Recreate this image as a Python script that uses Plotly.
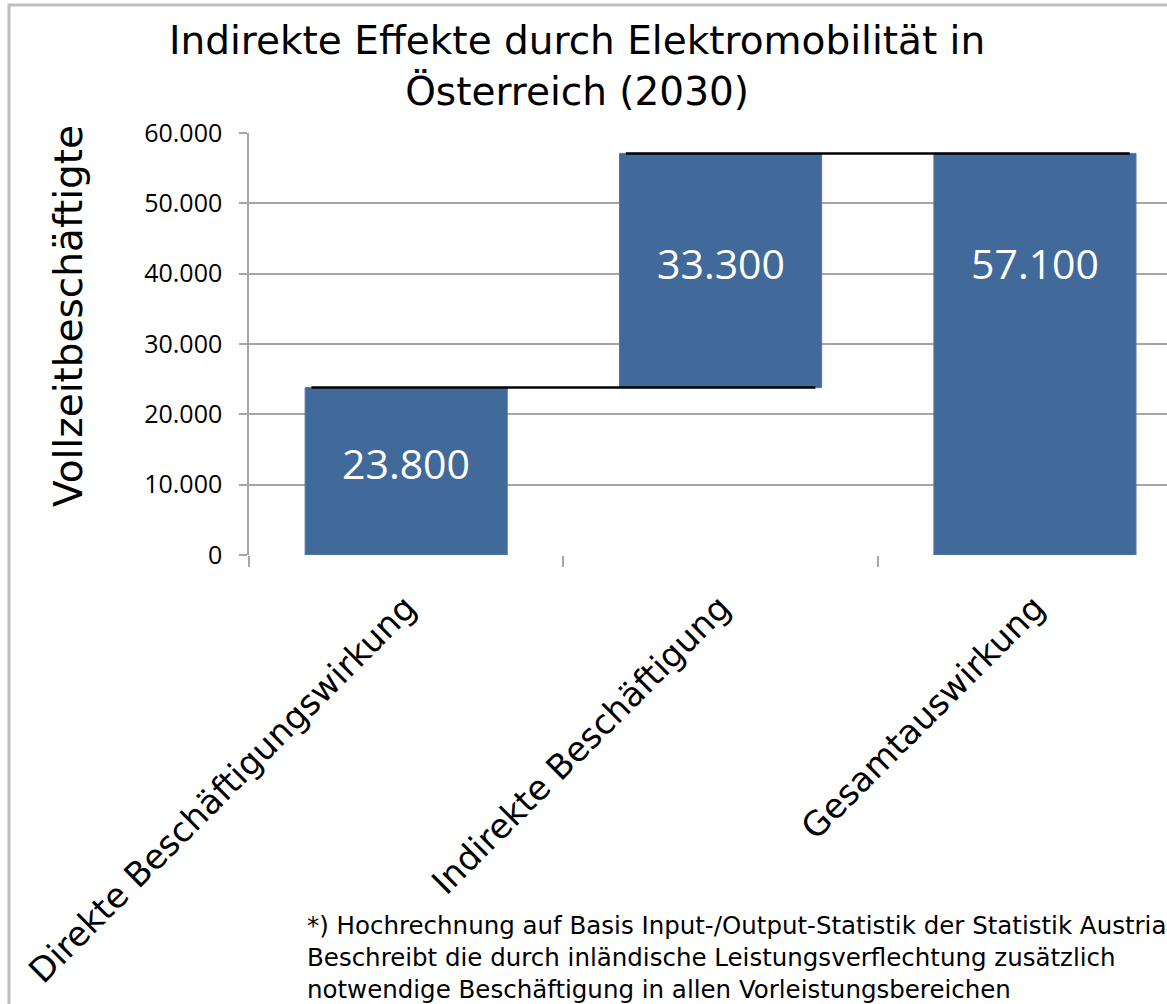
import plotly.graph_objects as go

categories = ["Direkte Beschäftigungswirkung", "Indirekte Beschäftigung", "Gesamtauswirkung"]
values = [23800, 33300, 57100]
measures = ["relative", "relative", "total"]
y_ticks = [0, 10000, 20000, 30000, 40000, 50000, 60000]
title_text = "Indirekte Effekte durch Elektromobilität in<br>Österreich (2030)"
y_title = "Vollzeitbeschäftigte"
footnote = ("*) Hochrechnung auf Basis Input-/Output-Statistik der Statistik Austria<br>"
            "Beschreibt die durch inländische Leistungsverflechtung zusätzlich<br>"
            "notwendige Beschäftigung in allen Vorleistungsbereichen")

W, H = 1167, 1004
L, R, T, B = 249, 0, 133, 449
PW, PH = W - L - R, H - T - B

def px_x(p):
    return (p - L) / PW

def px_y(p):
    return (H - B - p) / PH

# compute bases / tops of waterfall
bases, tops = [], []
run = 0
for v, m in zip(values, measures):
    if m == "total":
        bases.append(0)
        tops.append(v)
        run = v
    else:
        bases.append(run)
        run += v
        tops.append(run)
heights = [t - b for b, t in zip(bases, tops)]

FONT = "Open Sans"
WIDE = "DejaVu Sans"
bar_w = 0.643
bar_color = "#416A9B"

fig = go.Figure()
fig.add_trace(go.Bar(
    x=categories, y=heights, base=bases, width=bar_w,
    marker=dict(color=bar_color, line=dict(color="#5578A5", width=1)),
    hoverinfo="skip", showlegend=False,
))

# connectors
shapes = []
for i in range(len(values) - 1):
    shapes.append(dict(type="line", xref="x", yref="y",
                       x0=i - bar_w / 2 + 0.02, x1=i + 1 + bar_w / 2 - 0.02,
                       y0=tops[i], y1=tops[i], line=dict(color="black", width=2.5)))

# outer border
shapes.append(dict(type="rect", xref="paper", yref="paper",
                   x0=px_x(9), x1=px_x(1300), y0=px_y(1200), y1=px_y(5),
                   line=dict(color="#BEBEBE", width=3), fillcolor="rgba(0,0,0,0)", layer="below"))

annotations = []
# data labels
for i, (b, h, m) in enumerate(zip(bases, heights, measures)):
    if m == "total":
        ly = tops[i - 1] - heights[i - 1] / 2
    else:
        ly = b + h / 2
    label = f"{values[i]:,}".replace(",", ".")
    annotations.append(dict(x=categories[i], y=ly, xref="x", yref="y", text=label,
                            showarrow=False, font=dict(family=FONT, size=41, color="white"),
                            yshift=8))

annotations.append(dict(x=px_x(577), y=px_y(66), xref="paper", yref="paper", text=title_text,
                        showarrow=False, font=dict(family=WIDE, size=39, color="black"),
                        xanchor="center", yanchor="middle"))
annotations.append(dict(x=px_x(68), y=px_y(316), xref="paper", yref="paper", text=y_title,
                        showarrow=False, textangle=-90, font=dict(family=WIDE, size=39, color="black"),
                        xanchor="center", yanchor="middle"))
annotations.append(dict(x=px_x(305), y=px_y(909), xref="paper", yref="paper", text=footnote,
                        showarrow=False, align="left", font=dict(family=WIDE, size=24.5, color="black"),
                        xanchor="left", yanchor="top"))

fig.update_layout(
    width=W, height=H,
    margin=dict(l=L, r=R, t=T, b=B, autoexpand=False),
    paper_bgcolor="white", plot_bgcolor="white",
    separators=",.",
    bargap=0.357,
    shapes=shapes, annotations=annotations,
    font=dict(family=FONT, color="black"),
)
fig.update_xaxes(
    type="category", range=[-0.5, 2.42],
    tickson="boundaries", ticks="outside", ticklen=11, tickcolor="#A6A6A6", tickwidth=1.5,
    tickangle=-45, tickfont=dict(family=WIDE, size=34, color="black"),
    ticklabelstandoff=25,
    showline=False, showgrid=False,
)
fig.update_yaxes(
    range=[0, 60000], tickvals=y_ticks, tickformat=",d",
    ticks="outside", ticklen=8, tickcolor="#A6A6A6", tickwidth=1.5,
    showgrid=True, gridcolor="#A6A6A6", gridwidth=1.5,
    showline=True, linecolor="#A6A6A6", linewidth=1.5,
    tickfont=dict(family=FONT, size=25, color="black"),
    ticklabelstandoff=12,
    zeroline=False,
)

fig.write_html("out.html")
